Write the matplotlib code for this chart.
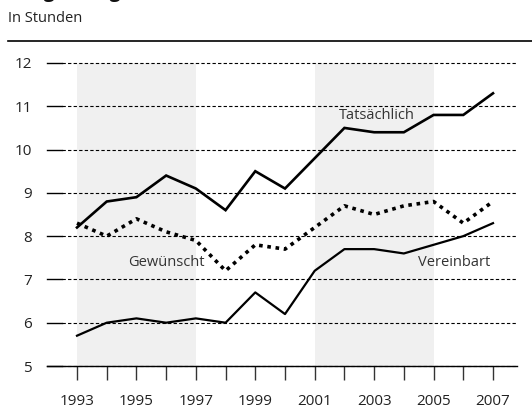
import matplotlib
matplotlib.use("Agg")
import matplotlib.pyplot as plt

plt.rcParams['font.family'] = ['Open Sans', 'DejaVu Sans']

years = list(range(1993, 2008))
tatsaechlich = [8.2, 8.8, 8.9, 9.4, 9.1, 8.6, 9.5, 9.1, 9.8, 10.5, 10.4, 10.4, 10.8, 10.8, 11.3]
gewuenscht = [8.3, 8.0, 8.4, 8.1, 7.9, 7.2, 7.8, 7.7, 8.2, 8.7, 8.5, 8.7, 8.8, 8.3, 8.8]
vereinbart = [5.7, 6.0, 6.1, 6.0, 6.1, 6.0, 6.7, 6.2, 7.2, 7.7, 7.7, 7.6, 7.8, 8.0, 8.3]
y_ticks = [5, 6, 7, 8, 9, 10, 11, 12]
x_labels = [1993, 1995, 1997, 1999, 2001, 2003, 2005, 2007]
bands = [(1993, 1997), (2001, 2005)]

W, H = 532, 409
fig = plt.figure(figsize=(W / 100, H / 100), dpi=100)
# axes in pixel coordinates: left 47, right 517, top 63, bottom 366
ax = fig.add_axes([47 / W, (H - 366) / H, 470 / W, 303 / H])

px_per_year = (493 - 77) / 14
x_left = 1993 - 30 / px_per_year
x_right = 2007 + 24 / px_per_year
x_grid = 1993 - 15 / px_per_year
ax.set_xlim(x_left, x_right)
ax.set_ylim(5, 12)

for a, b in bands:
    ax.axvspan(a, b, color='#f0f0f0', lw=0, zorder=0)

# short solid tick stubs and dashed gridlines
for v in y_ticks:
    ax.plot([x_left, x_grid], [v, v], color='black', lw=1, zorder=1, clip_on=False)
    ax.plot([x_grid, x_right], [v, v], color='black', lw=0.8, ls=(0, (3, 2)),
            zorder=1, clip_on=False)

ax.plot(years, tatsaechlich, color='black', lw=1.9, zorder=3, solid_joinstyle='miter')
ax.plot(years, vereinbart, color='black', lw=1.6, zorder=3)
ax.plot(years, gewuenscht, color='black', lw=2.6, ls=(0, (1, 1.3)), zorder=3,
        dash_capstyle='butt')

txt = dict(fontsize=10.5, color='#333333', ha='center', va='center')
ax.text(2003.1, 10.78, 'Tatsächlich', **txt)
ax.text(1996.0, 7.4, 'Gewünscht', **txt)
ax.text(2005.7, 7.4, 'Vereinbart', **txt)

for s in ['top', 'right', 'left']:
    ax.spines[s].set_visible(False)
ax.spines['bottom'].set_linewidth(1)

ax.set_yticks(y_ticks)
ax.set_yticklabels([str(v) for v in y_ticks])
ax.tick_params(axis='y', length=0, pad=11, labelsize=11, labelcolor='#222222')
ax.set_xticks(years)
ax.set_xticklabels([str(y) if y in x_labels else '' for y in years])
ax.tick_params(axis='x', direction='out', length=10, width=1, color='#333333',
               pad=10.5, labelsize=11, labelcolor='#222222')

# header
fig.text(8 / W, 1 - 18 / H, 'In Stunden', fontsize=10.5, color='#222222',
         ha='left', va='center')
fig.add_artist(plt.Line2D([8 / W, 1], [1 - 41 / H, 1 - 41 / H], color='black', lw=1.2))
fig.text(8 / W, 1 + 3 / H, 'Länge der gewünschten und tatsächlichen Arbeitszeit',
         fontsize=14, fontweight='bold', color='#111111', ha='left', va='baseline')

fig.savefig('out.png', dpi=100)
